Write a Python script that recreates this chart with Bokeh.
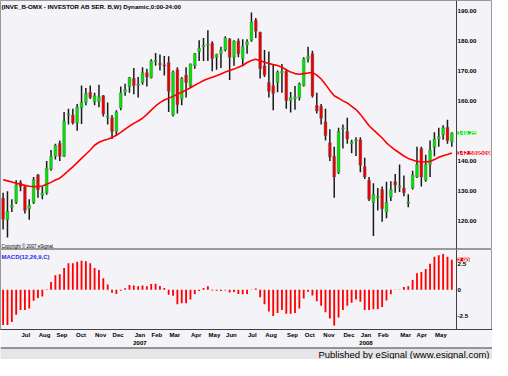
from bokeh.plotting import figure
from bokeh.models import (ColumnDataSource, Range1d, LinearAxis, FixedTicker, Label, Span)
from bokeh.layouts import column
from bokeh.embed import file_html
from bokeh.resources import INLINE

# ---------------- data (weekly bars, Jun 2006 - May 2008) ----------------
opens = [127.5, 120.3, 124.5, 126.1, 132.8, 131.4, 124.0, 126.1, 135.3, 128.5,
         129.3, 137.2, 141.5, 145.9, 141.5, 155.3, 155.3, 152.6, 157.7, 159.5,
         162.9, 159.7, 159.7, 161.7, 154.5, 154.4, 149.8, 157.6, 163.0, 164.8,
         167.5, 165.2, 166.2, 169.4, 167.7, 173.1, 172.5, 172.0, 172.8, 155.3,
         170.4, 160.6, 168.6, 165.1, 171.7, 176.5, 178.1, 178.6, 179.2, 174.6,
         175.7, 177.0, 180.6, 174.6, 180.0, 174.1, 178.6, 180.2, 186.9, 182.9,
         171.7, 166.1, 165.1, 166.1, 169.3, 169.9, 160.1, 160.8, 161.1, 165.1,
         174.1, 175.7, 158.5, 158.2, 153.0, 146.0, 141.5, 136.2, 150.6, 149.8,
         145.7, 146.6, 147.0, 138.1, 133.5, 126.1, 127.7, 130.4, 122.9, 127.9,
         133.0, 131.2, 130.9, 125.8, 130.9, 134.6, 144.1, 133.5, 138.8, 144.5,
         147.3, 148.7, 151.2, 146.3]
highs = [129.3, 129.8, 127.2, 133.5, 133.5, 131.9, 127.2, 134.6, 135.6, 131.4,
         139.9, 143.6, 145.7, 146.8, 156.3, 157.4, 157.4, 159.0, 165.1, 164.3,
         165.1, 162.7, 165.4, 162.0, 159.5, 155.3, 156.9, 164.8, 165.7, 168.0,
         171.0, 168.0, 171.2, 170.7, 173.9, 176.0, 175.5, 175.0, 174.9, 170.1,
         171.2, 168.0, 171.2, 172.5, 176.0, 180.2, 181.0, 183.6, 179.9, 175.7,
         178.1, 181.6, 181.0, 180.2, 180.8, 180.6, 180.6, 189.5, 187.7, 183.1,
         177.0, 176.5, 172.3, 170.1, 172.3, 170.4, 163.0, 165.0, 166.1, 174.6,
         178.1, 176.7, 162.7, 159.0, 157.4, 150.5, 144.7, 151.0, 152.1, 154.4,
         147.0, 147.9, 147.9, 141.0, 134.6, 132.5, 130.9, 131.4, 133.0, 133.2,
         135.6, 138.8, 135.1, 128.8, 136.7, 144.7, 144.7, 142.0, 146.8, 149.5,
         151.0, 151.9, 153.7, 149.5]
lows = [117.1, 114.4, 122.9, 125.6, 129.8, 122.4, 120.3, 125.6, 127.7, 127.2,
        128.7, 136.7, 140.4, 139.9, 141.3, 152.1, 152.1, 150.0, 152.3, 158.5,
        160.6, 158.5, 157.9, 154.8, 152.1, 147.3, 148.4, 156.9, 161.7, 162.7,
        162.2, 161.1, 165.4, 164.8, 167.5, 171.7, 170.1, 168.5, 156.3, 154.8,
        155.8, 158.5, 161.1, 164.3, 170.7, 173.3, 173.3, 173.3, 169.9, 170.4,
        171.0, 176.5, 167.0, 171.7, 174.6, 171.7, 175.7, 179.7, 181.0, 167.5,
        168.0, 161.1, 156.9, 162.9, 162.7, 157.4, 156.1, 157.0, 160.1, 164.8,
        172.8, 161.1, 155.8, 152.1, 146.8, 139.9, 127.7, 135.6, 144.1, 145.7,
        142.5, 141.6, 136.2, 133.9, 126.6, 114.9, 123.4, 119.7, 120.8, 126.6,
        129.3, 129.6, 128.2, 124.5, 130.4, 134.3, 131.4, 133.0, 134.6, 141.5,
        144.7, 147.0, 145.7, 144.7]
closes = [120.5, 123.2, 125.2, 131.9, 131.4, 123.4, 125.2, 133.7, 130.3, 129.3,
          137.5, 141.5, 145.2, 141.5, 153.2, 155.6, 152.6, 157.9, 159.5, 162.5,
          161.1, 161.7, 161.4, 155.6, 155.0, 149.8, 156.3, 162.7, 163.8, 167.8,
          165.1, 165.6, 169.4, 168.0, 173.3, 173.5, 172.1, 171.6, 163.2, 169.6,
          158.7, 167.5, 166.1, 172.3, 175.7, 177.6, 178.6, 178.9, 174.1, 175.5,
          177.0, 181.0, 174.6, 180.0, 175.7, 178.1, 179.7, 186.3, 183.2, 170.7,
          168.6, 163.2, 162.5, 169.6, 169.9, 160.1, 161.1, 161.3, 165.7, 174.1,
          174.9, 161.7, 156.6, 154.2, 148.4, 141.3, 134.6, 149.8, 151.0, 147.3,
          146.3, 147.0, 138.5, 134.6, 127.2, 128.8, 128.2, 124.0, 126.1, 130.4,
          131.9, 131.6, 129.3, 126.3, 135.3, 138.8, 134.6, 138.8, 143.6, 147.3,
          148.1, 151.0, 146.8, 149.25]
moving_avg = [133.7, 133.3, 132.9, 132.5, 132.2, 131.8, 131.5, 131.4, 131.4, 131.6,
              132.2, 132.8, 133.6, 134.2, 135.4, 136.7, 138.0, 139.4, 140.8, 142.2,
              143.6, 145.2, 146.2, 146.8, 147.2, 147.8, 148.5, 149.5, 150.6, 151.6,
              152.5, 153.3, 154.2, 155.5, 156.9, 158.3, 159.4, 160.3, 160.9, 161.5,
              162.2, 162.9, 163.6, 164.4, 165.2, 166.0, 166.8, 167.4, 167.9, 168.4,
              169.0, 169.6, 170.1, 170.6, 171.2, 171.8, 172.8, 173.5, 173.9, 173.4,
              172.9, 172.5, 172.1, 171.8, 171.2, 170.4, 169.6, 169.1, 168.9, 169.1,
              169.3, 169.5, 168.6, 167.3, 165.5, 163.5, 161.7, 160.9, 160.0, 159.3,
              158.2, 157.1, 155.5, 153.6, 151.7, 150.3, 149.0, 147.6, 146.0, 144.7,
              143.6, 142.6, 141.6, 140.8, 140.3, 139.8, 139.6, 139.6, 139.8, 140.4,
              141.2, 141.7, 142.1, 142.589509]
macd_hist = [-3.4, -3.4, -3.1, -2.4, -1.95, -1.95, -1.8, -1.05, -0.8, -0.65,
             0.05, 0.75, 1.4, 1.5, 2.1, 2.55, 2.55, 2.7, 2.8, 2.75,
             2.55, 2.1, 1.9, 1.1, 0.5, -0.3, -0.4, -0.1, 0.15, 0.45,
             0.4, 0.35, 0.4, 0.35, 0.55, 0.58, 0.37, 0.18, -0.49, -0.58,
             -1.4, -1.31, -1.31, -0.95, -0.43, -0.12, 0.18, 0.34, -0.06, -0.09,
             -0.12, -0.06, -0.27, -0.21, -0.4, -0.43, -0.4, -0.03, 0.12, -0.73,
             -1.4, -2.1, -2.53, -2.23, -1.95, -2.32, -2.32, -2.23, -1.8, -0.85,
             -0.18, -0.55, -1.1, -1.55, -2.16, -2.77, -3.44, -2.68, -1.95, -1.55,
             -1.25, -0.95, -1.16, -1.95, -1.95, -1.89, -1.89, -1.65, -1.04, -0.43,
             -0.03, 0.02, 0.27, 0.34, 0.95, 1.59, 1.71, 2.01, 2.5, 3.17,
             3.32, 3.45, 3.17, 2.90]
month_pos = [5.2, 9.5, 13.5, 17.9, 22.4, 26.4, 31.4, 35.3, 39.4, 44.3, 48.5, 52.4,
             57.2, 61.5, 66.4, 70.4, 74.8, 79.4, 83.3, 87.3, 92.4, 96.1, 100.5]
month_labels = ["Jul", "Aug", "Sep", "Oct", "Nov", "Dec", "Jan", "Feb", "Mar", "Apr",
                "May", "Jun", "Jul", "Aug", "Sep", "Oct", "Nov", "Dec", "Jan", "Feb",
                "Mar", "Apr", "May"]
year_pos = [31.4, 83.3]
year_labels = ["2007", "2008"]
price_ticks = [120, 130, 140, 160, 170, 180, 190]
macd_ticks = [-2.5, 0, 2.5]
macd_tick_labels = ["-2.5", "0", "2.5"]
title_text = "(INVE_B-OMX - INVESTOR AB SER. B,W) Dynamic,0:00-24:00"
last_close = 149.25
last_ma = 142.589509
last_macd = 2.90

# ---------------- styling / geometry ----------------
BG = "#F4F3F7"
UP = "#00E400"
DN = "#E80000"
FONT = "Liberation Sans"
TOTAL_W = 492
X_START, X_AXIS = -0.6, 104.07          # plotted bar range; price scale sits at X_AXIS
PX_PER_BAR = 456 / (X_AXIS - X_START)
X_END = X_START + TOTAL_W / PX_PER_BAR   # frame spans the scale-label strip as well

xs = list(range(len(closes)))
src = ColumnDataSource(dict(
    x=xs, open=opens, high=highs, low=lows, close=closes,
    top=[max(o, c) for o, c in zip(opens, closes)],
    bottom=[min(o, c) for o, c in zip(opens, closes)],
    color=[UP if c >= o else DN for o, c in zip(opens, closes)],
    ma=moving_avg, macd=macd_hist,
))

xr = Range1d(X_START, X_END)

def base_fig(h, yr):
    f = figure(frame_width=TOTAL_W, frame_height=h, x_range=xr, y_range=yr,
               output_backend="svg", toolbar_location=None,
               x_axis_location=None, y_axis_location=None,
               min_border_left=0, min_border_right=0,
               min_border_top=0, min_border_bottom=0,
               background_fill_color=BG, border_fill_color=BG,
               outline_line_color="#9a9a9a", outline_line_width=1)
    f.grid.visible = False
    f.add_layout(Span(location=X_AXIS, dimension="height",
                      line_color="#404040", line_width=1))
    return f

def right_text(y, text, bg=None, color="#000000"):
    return Label(x=X_AXIS, y=y, text=text, x_offset=1,
                 text_font=FONT, text_font_size="6.2px", text_font_style="bold",
                 text_color=color, text_baseline="middle", text_align="left",
                 background_fill_color=bg)

# ---------------- price panel ----------------
p1 = base_fig(249, Range1d(110.4, 193.5))
p1.segment(x0="x", y0="low", x1="x", y1="high", source=src,
           line_color="#1a1a1a", line_width=1.5)
p1.vbar(x="x", top="top", bottom="bottom", width=0.64, source=src,
        fill_color="color", line_color="#606060", line_width=0.4)
p1.line(x="x", y="ma", source=src, line_color="#FF0000", line_width=1.6)
for t in price_ticks:
    p1.add_layout(right_text(t, f"{t:.2f}"))

p1.add_layout(Label(x=1, y=243, x_units="screen", y_units="screen", text=title_text,
                    text_font=FONT, text_font_size="6.2px", text_font_style="bold",
                    text_color="#000000", text_baseline="middle"))
p1.add_layout(Label(x=1, y=3, x_units="screen", y_units="screen",
                    text="Copyright \u00a9 2007 eSignal.", text_font=FONT,
                    text_font_size="4.5px", text_color="#000000", text_baseline="middle"))
p1.add_layout(right_text(last_close, f"{last_close:.2f}", "#00E000", "#ffffff"))
p1.add_layout(right_text(last_ma, f"{last_ma:.6f}", "#E80000", "#ffffff"))

# ---------------- MACD panel ----------------
p2 = base_fig(80, Range1d(-3.83, 3.88))
p2.vbar(x="x", top="macd", bottom=0, width=0.42, source=src,
        fill_color="#FF0000", line_color=None)
for t, lab in zip(macd_ticks, macd_tick_labels):
    p2.add_layout(right_text(t, lab))
month_axis = LinearAxis(ticker=FixedTicker(ticks=month_pos),
                        major_label_overrides=dict(zip(month_pos, month_labels)),
                        axis_line_color="#404040", axis_line_width=1,
                        major_tick_line_color=None, minor_tick_line_color=None,
                        major_tick_out=0, major_tick_in=0, major_label_standoff=2,
                        major_label_text_font=FONT, major_label_text_font_size="6px",
                        major_label_text_font_style="bold", major_label_text_color="#000000")
year_axis = LinearAxis(ticker=FixedTicker(ticks=year_pos),
                       major_label_overrides=dict(zip(year_pos, year_labels)),
                       axis_line_color=None,
                       major_tick_line_color=None, minor_tick_line_color=None,
                       major_tick_out=0, major_tick_in=0, major_label_standoff=0,
                       major_label_text_font=FONT, major_label_text_font_size="6px",
                       major_label_text_font_style="bold", major_label_text_color="#000000")
p2.add_layout(month_axis, "below")
p2.add_layout(year_axis, "below")
p2.add_layout(Label(x=1, y=73, x_units="screen", y_units="screen", text="MACD(12,26,9,C)",
                    text_font=FONT, text_font_size="6px", text_font_style="bold",
                    text_color="#2a2ae8", text_baseline="middle"))
p2.add_layout(right_text(last_macd, f"{last_macd:.2f}", "#E80000", "#ffffff"))

# ---------------- footer ----------------
p3 = figure(frame_width=TOTAL_W, frame_height=12, x_range=Range1d(0, 1),
            y_range=Range1d(0, 1), output_backend="svg", toolbar_location=None,
            x_axis_location=None, y_axis_location=None,
            min_border_left=0, min_border_right=0, min_border_top=0, min_border_bottom=0,
            background_fill_color="#E6E6E6", border_fill_color="#E6E6E6",
            outline_line_color=None)
p3.grid.visible = False
p3.add_layout(Span(location=1, dimension="width", line_color="#3c3c3c", line_width=2))
p3.add_layout(Label(x=TOTAL_W - 3, y=5, x_units="screen", y_units="screen",
                    text="Published by eSignal (www.esignal.com)", text_font=FONT,
                    text_font_size="9.5px", text_color="#000000",
                    text_align="right", text_baseline="middle"))

layout = column(p1, p2, p3, spacing=0)
open("out.html", "w").write(file_html(layout, INLINE, "INVE B chart"))
